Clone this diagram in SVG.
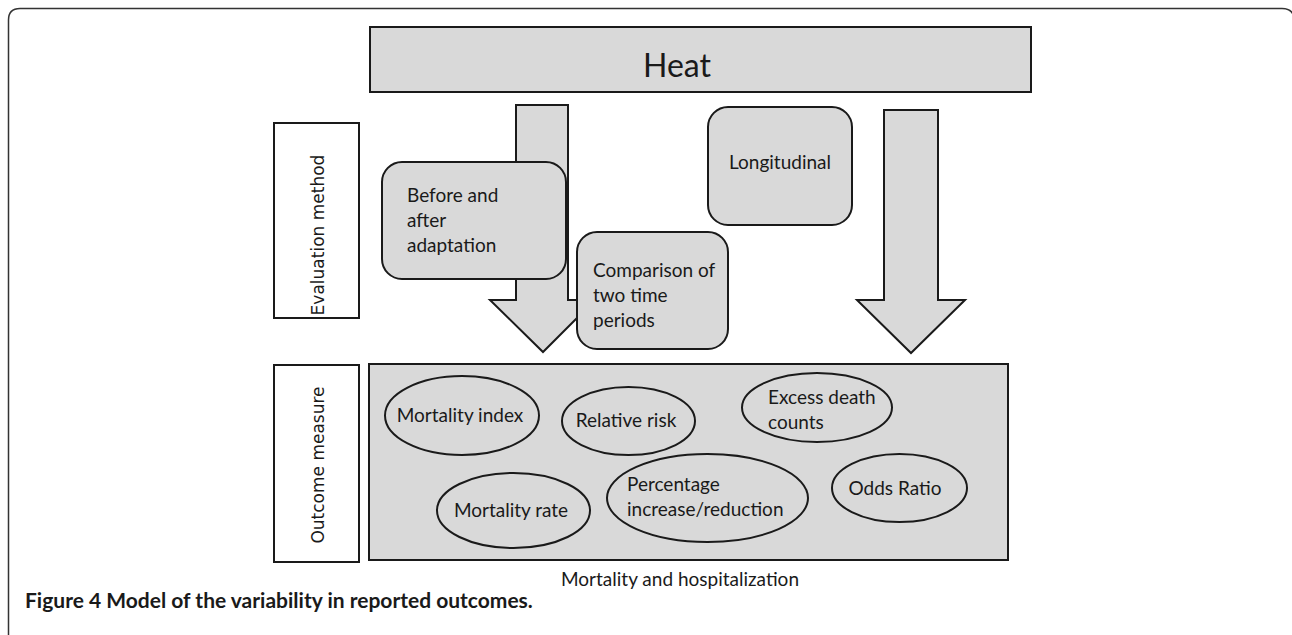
<svg xmlns="http://www.w3.org/2000/svg" width="1292" height="635" viewBox="0 0 1292 635">
<style>
.box{fill:#d9d9d9;stroke:#1a1a1a;stroke-width:2}
.lbl{fill:#fff;stroke:#1a1a1a;stroke-width:2}
.arr{fill:#d9d9d9;stroke:#1a1a1a;stroke-width:2;stroke-linejoin:miter}
.t{font-family:Lato,"Open Sans",sans-serif;font-size:19px;fill:#1a1a1a}
.v{font-family:"DejaVu Sans",sans-serif;font-size:17px;fill:#1a1a1a}
</style>
<rect width="1292" height="635" fill="#fff"/>
<path d="M8.5 640 V20 Q8.5 8.5 20 8.5 H1282 Q1294 8.5 1294 20 V640" fill="none" stroke="#333" stroke-width="1.5"/>
<g id="heat">
<rect class="box" x="370" y="27" width="661" height="65"/>
<text x="677" y="77" text-anchor="middle" style="font-family:Lato,sans-serif;font-size:32px;fill:#1a1a1a">Heat</text>
</g>
<g id="connectors">
<polygon class="arr" points="516,105 568,105 568,300 595,300 543,352 490,300 516,300"/>
<polygon class="arr" points="884,110 938,110 938,300 965,300 911,353 857,300 884,300"/>
</g>
<g id="evaluation-method">
<rect class="lbl" x="274" y="123" width="85" height="195"/>
<text class="v" transform="translate(324,235) rotate(-90)" text-anchor="middle">Evaluation method</text>
</g>
<g id="before-after">
<rect class="box" x="382" y="162" width="184" height="117" rx="20"/>
<text class="t" x="407" y="202">Before and</text>
<text class="t" x="407" y="227">after</text>
<text class="t" x="407" y="252">adaptation</text>
</g>
<g id="comparison">
<rect class="box" x="577" y="232" width="151" height="117" rx="20"/>
<text class="t" x="593" y="277">Comparison of</text>
<text class="t" x="593" y="302">two time</text>
<text class="t" x="593" y="327">periods</text>
</g>
<g id="longitudinal">
<rect class="box" x="708" y="107" width="144" height="118" rx="20"/>
<text class="t" x="780" y="169" text-anchor="middle">Longitudinal</text>
</g>
<g id="outcome-measure">
<rect class="lbl" x="274" y="365" width="85" height="197"/>
<text class="v" transform="translate(324,465) rotate(-90)" text-anchor="middle">Outcome measure</text>
</g>
<g id="mortality-hospitalization">
<rect class="box" x="369" y="364" width="639" height="196"/>
<text class="t" x="680" y="586" text-anchor="middle">Mortality and hospitalization</text>
</g>
<g id="mortality-index">
<ellipse class="box" cx="462" cy="415.5" rx="77" ry="39.5"/>
<text class="t" x="460" y="422" text-anchor="middle">Mortality index</text>
</g>
<g id="relative-risk">
<ellipse class="box" cx="628.5" cy="421" rx="66.5" ry="34"/>
<text class="t" x="626" y="427" text-anchor="middle">Relative risk</text>
</g>
<g id="excess-death">
<ellipse class="box" cx="817" cy="407.5" rx="75" ry="34.5"/>
<text class="t" x="768" y="404">Excess death</text>
<text class="t" x="768" y="429">counts</text>
</g>
<g id="mortality-rate">
<ellipse class="box" cx="513.5" cy="510.5" rx="76.5" ry="37.5"/>
<text class="t" x="511" y="517" text-anchor="middle">Mortality rate</text>
</g>
<g id="percentage">
<ellipse class="box" cx="707.5" cy="498" rx="100.5" ry="44"/>
<text class="t" x="627" y="491">Percentage</text>
<text class="t" x="627" y="516">increase/reduction</text>
</g>
<g id="odds-ratio">
<ellipse class="box" cx="899.5" cy="488" rx="67.5" ry="34"/>
<text class="t" x="895" y="495" text-anchor="middle">Odds Ratio</text>
</g>
<text x="25" y="608" style="font-family:Lato,sans-serif;font-size:21px;font-weight:bold;fill:#1a1a1a">Figure 4 Model of the variability in reported outcomes.</text>
</svg>
